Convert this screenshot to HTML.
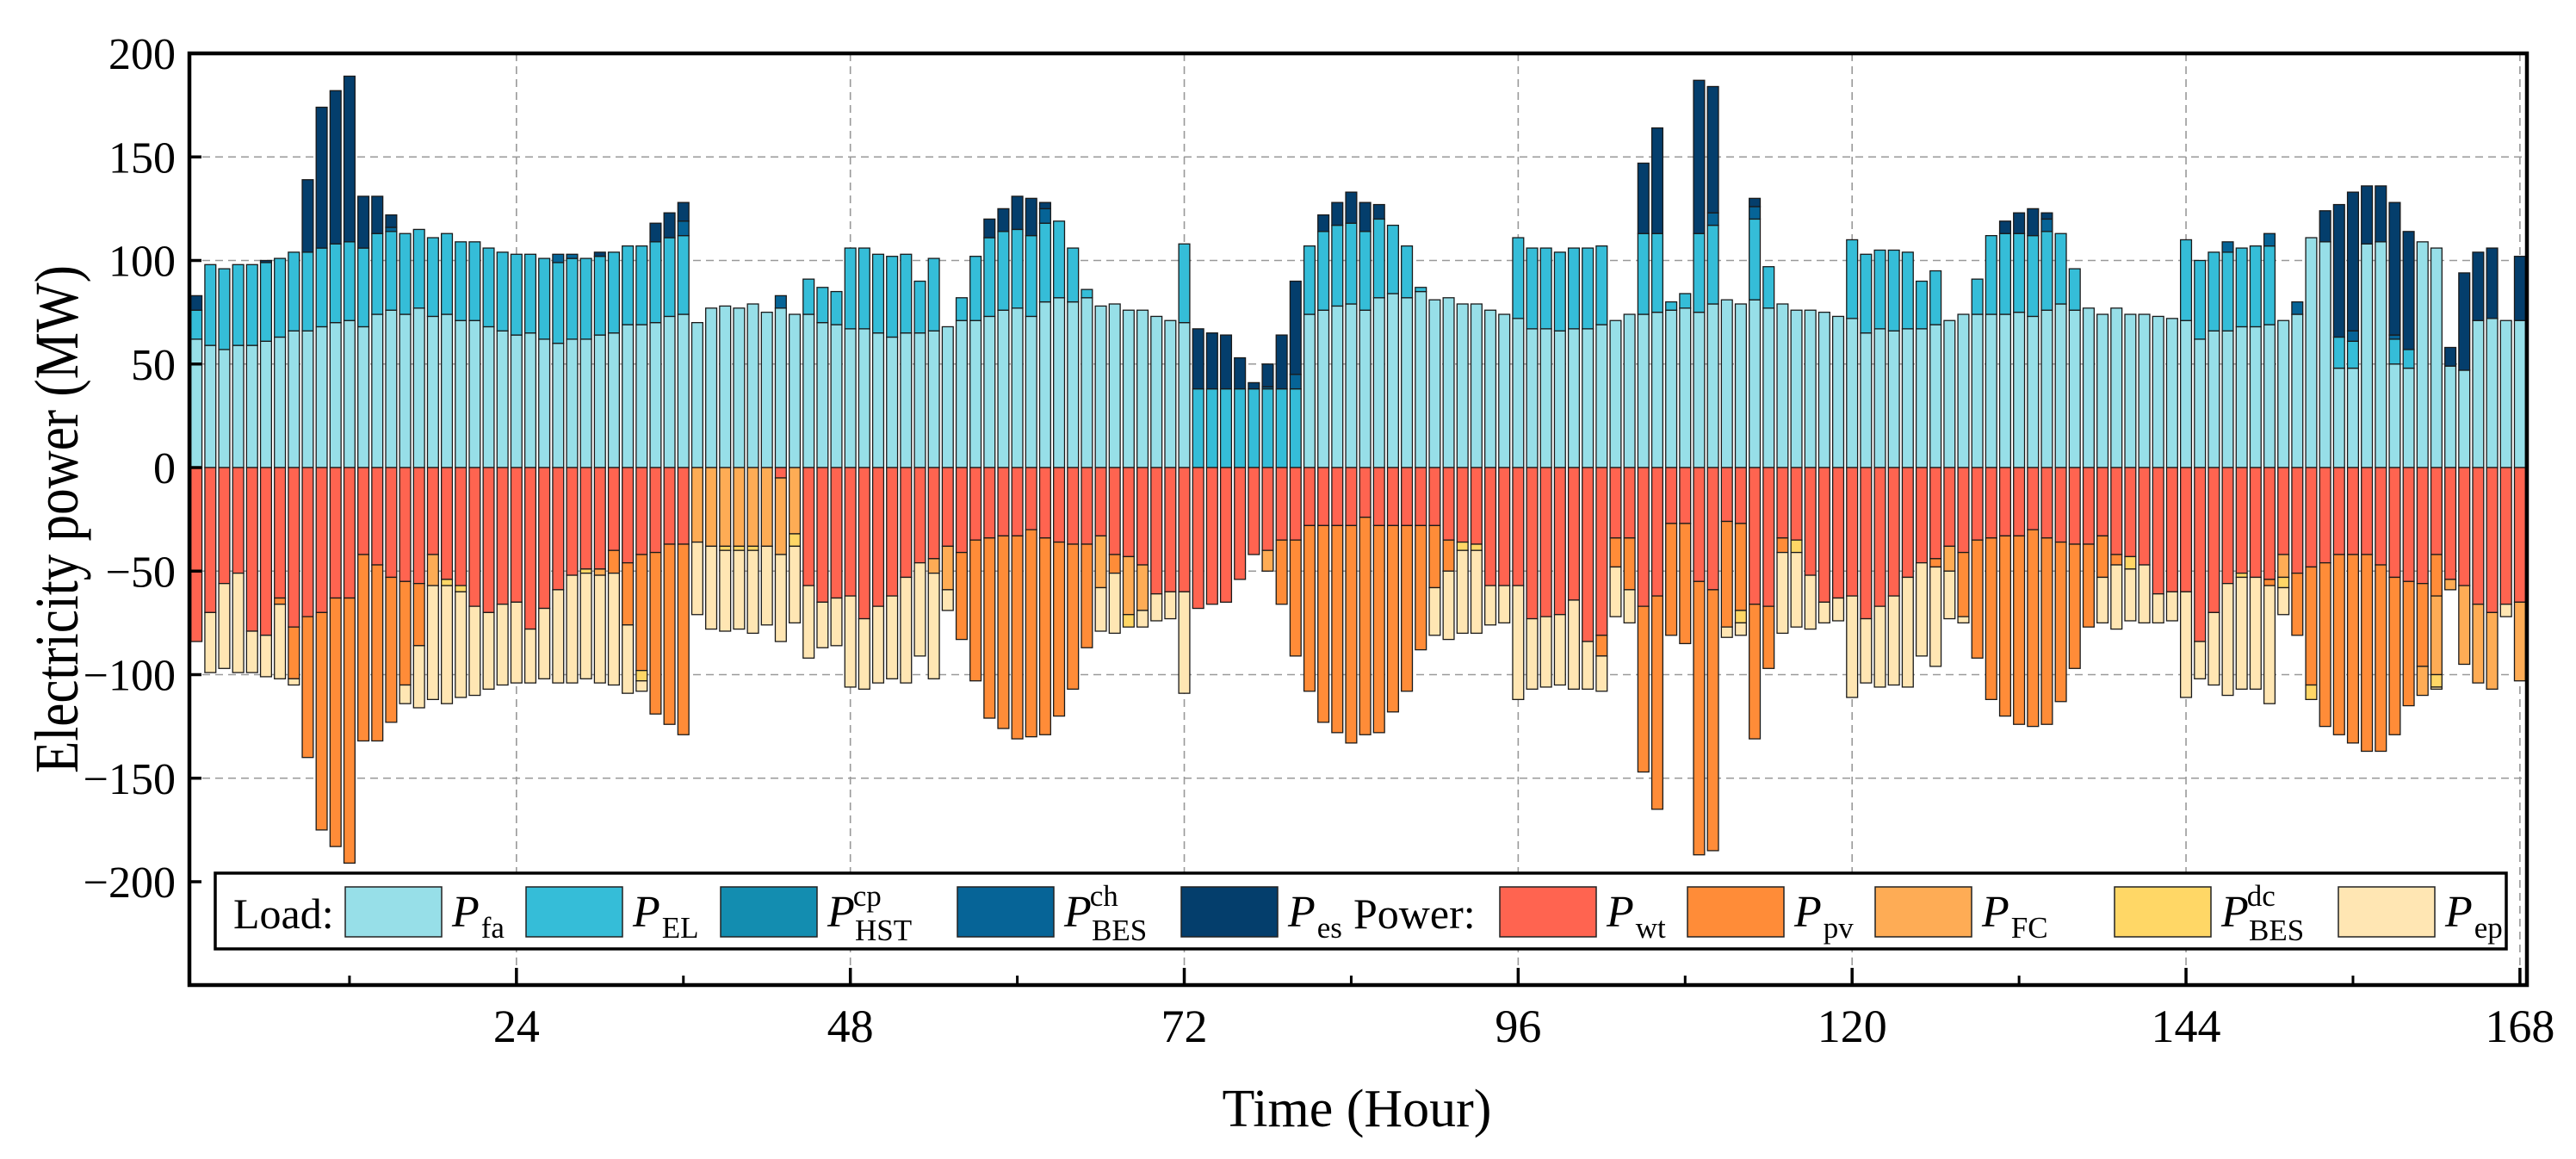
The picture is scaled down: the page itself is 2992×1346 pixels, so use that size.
<!DOCTYPE html>
<html><head><meta charset="utf-8"><style>
html,body{margin:0;padding:0;background:#fff;}
svg{display:block;font-family:"Liberation Serif",serif;}
</style></head><body>
<svg id="chart" width="2992" height="1346" viewBox="0 0 2992 1346" xmlns="http://www.w3.org/2000/svg">
<g id="grid"></g>
<g id="bars"></g>
<g id="axes"></g>
<g id="legend"></g>
</svg>
<script>
const hours = [1,2,3,4,5,6,7,8,9,10,11,12,13,14,15,16,17,18,19,20,21,22,23,24,25,26,27,28,29,30,31,32,33,34,35,36,37,38,39,40,41,42,43,44,45,46,47,48,49,50,51,52,53,54,55,56,57,58,59,60,61,62,63,64,65,66,67,68,69,70,71,72,73,74,75,76,77,78,79,80,81,82,83,84,85,86,87,88,89,90,91,92,93,94,95,96,97,98,99,100,101,102,103,104,105,106,107,108,109,110,111,112,113,114,115,116,117,118,119,120,121,122,123,124,125,126,127,128,129,130,131,132,133,134,135,136,137,138,139,140,141,142,143,144,145,146,147,148,149,150,151,152,153,154,155,156,157,158,159,160,161,162,163,164,165,166,167,168];
const pFa = [62,59,57,59,59,61,63,66,66,68,70,71, 68,74,76,74,77,73,74,71,71,68,66,64, 65,62,60,62,62,64,65,69,69,70,73,74, 70,77,78,77,79,75,77,74,74,70,69,67, 67,65,63,65,65,66,68,71,71,73,76,77, 73,80,82,80,82,78,79,76,76,73,71,70, 0,0,0,0,0,0,0,0,74,76,78,79, 76,82,84,82,85,81,82,79,79,76,74,72, 67,67,66,67,67,69,71,74,74,75,76,77, 75,79,81,79,81,77,79,76,76,75,73,72, 65,67,66,67,67,69,71,74,74,74,74,75, 73,76,79,76,77,74,77,74,74,73,72,71, 62,66,66,68,68,69,71,74,111,109,48,48, 108,109,50,48,109,106,49,47,71,72,71,71];
const pEL = [14,39,39,39,39,38,38,38,38,38,38,38, 38,39,38,39,38,38,39,38,38,38,38,39, 38,39,39,39,39,38,39,38,38,39,38,38, 0,0,0,0,0,0,0,0,17,17,16,39, 39,38,39,38,25,35,0,11,31,38,38,38, 39,38,37,26,4,0,0,0,0,0,0,38, 38,38,38,38,38,38,38,38,33,38,39,39, 38,38,33,25,2,0,0,0,0,0,0,39, 39,39,38,39,39,38,0,0,39,38,4,7, 38,38,0,0,39,20,0,0,0,0,0,38, 38,38,39,37,23,26,0,0,17,38,39,38, 39,38,34,20,0,0,0,0,0,0,0,39, 38,38,38,38,39,38,0,0,0,0,15,13, 0,0,12,9,0,0,0,0,0,0,0,0];
const pHST = [0,0,0,0,0,0,0,0,0,0,0,0, 0,0,0,0,0,0,0,0,0,0,0,0, 0,0,0,0,0,0,0,0,0,0,0,0, 0,0,0,0,0,0,0,0,0,0,0,0, 0,0,0,0,0,0,0,0,0,0,0,0, 0,0,0,0,0,0,0,0,0,0,0,0, 0,0,0,0,0,0,0,0,0,0,0,0, 0,0,0,0,0,0,0,0,0,0,0,0, 0,0,0,0,0,0,0,0,0,0,0,0, 0,0,0,0,0,0,0,0,0,0,0,0, 0,0,0,0,0,0,0,0,0,0,0,0, 0,0,0,0,0,0,0,0,0,0,0,0, 0,0,0,0,0,0,0,0,0,0,0,0, 0,0,0,0,0,0,0,0,0,0,0,0];
const pBESch = [0,0,0,0,0,0,0,0,0,0,0,0, 0,0,2,0,0,0,0,0,0,0,0,0, 0,0,4,2,0,0,0,0,0,0,0,7, 0,0,0,0,0,0,6,0,0,0,0,0, 0,0,0,0,0,0,0,0,0,0,0,0, 0,7,0,0,0,0,0,0,0,0,0,0, 0,0,0,0,0,1,0,7,0,0,0,0, 0,0,0,0,0,0,0,0,0,0,0,0, 0,0,0,0,0,0,0,0,0,0,0,0, 0,6,0,0,6,0,0,0,0,0,0,0, 0,0,0,0,0,0,0,0,0,0,0,0, 0,6,0,0,0,0,0,0,0,0,0,0, 0,0,5,0,0,6,0,6,0,0,0,5, 0,0,2,0,0,0,0,0,0,0,0,0];
const pEs = [7,0,0,0,0,1,0,0,35,68,74,80, 25,18,6,0,0,0,0,0,0,0,0,0, 0,0,0,0,0,2,0,0,0,9,12,9, 0,0,0,0,0,0,0,0,0,0,0,0, 0,0,0,0,0,0,0,0,0,9,11,16, 18,3,0,0,0,0,0,0,0,0,0,0, 29,27,26,15,3,11,26,45,0,8,11,15, 14,7,0,0,0,0,0,0,0,0,0,0, 0,0,0,0,0,0,0,0,34,51,0,0, 74,61,0,0,4,0,0,0,0,0,0,0, 0,0,0,0,0,0,0,0,0,0,6,10, 13,3,0,0,0,0,0,0,0,0,0,0, 0,0,0,0,0,0,0,0,0,15,64,67, 28,27,64,57,0,0,9,47,33,34,0,31];
const pWt = [84,70,56,51,79,81,63,77,72,70,63,63, 42,47,53,55,56,42,54,57,67,70,66,65, 78,68,59,52,49,49,40,46,42,41,37,37, 0,0,0,0,0,0,5,0,57,65,63,62, 73,67,62,53,46,44,38,41,35,34,33,33, 30,34,36,37,37,33,42,43,47,61,60,60, 68,66,65,54,42,40,35,35,28,28,28,28, 24,28,28,28,28,28,35,36,37,57,57,57, 73,72,71,64,84,81,34,34,67,62,27,27, 55,59,26,27,66,67,34,35,52,65,63,62, 73,67,62,53,46,44,38,41,35,34,33,33, 30,34,36,37,37,33,42,43,47,61,60,60, 84,70,56,51,53,54,42,51,48,46,42,42, 42,47,53,55,56,42,54,57,66,70,66,65];
const pPv = [0,0,0,0,0,0,3,25,68,105,120,128, 90,85,70,50,30,0,0,0,0,0,0,0, 0,0,0,0,0,0,11,30,56,78,87,92, 0,0,0,0,0,0,0,0,0,0,0,0, 0,0,0,0,0,0,0,42,68,87,93,98, 100,95,84,70,50,0,9,0,0,0,0,0, 0,0,0,0,0,0,31,56,80,95,100,105, 105,100,90,80,60,30,15,0,0,0,0,0, 0,0,0,0,0,10,14,25,80,103,54,58, 132,126,51,42,65,30,7,0,0,0,0,0, 0,0,0,0,0,4,0,31,57,78,87,91, 95,90,77,60,40,20,5,0,0,0,0,0, 0,0,0,0,0,3,0,30,57,79,87,91, 95,90,76,60,40,20,0,0,0,0,0,0];
const pFC = [0,0,0,0,0,0,0,0,0,0,0,0, 0,0,0,0,0,15,0,0,0,0,0,0, 0,0,0,0,0,3,0,0,0,0,0,0, 36,38,38,38,38,38,37,32,0,0,0,0, 0,0,0,0,0,7,21,0,0,0,0,0, 0,0,0,0,0,25,0,28,22,0,0,0, 0,0,0,0,0,10,0,0,0,0,0,0, 0,0,0,0,0,0,0,0,0,0,0,0, 0,0,0,0,0,0,0,0,0,0,0,0, 0,0,0,0,0,0,0,0,0,0,0,0, 0,0,0,0,0,0,12,0,0,0,0,0, 0,0,0,0,0,0,0,0,0,0,0,0, 0,0,0,0,0,0,11,0,0,0,0,0, 0,0,0,0,14,38,5,38,38,37,0,38];
const pBESdc = [0,0,0,0,0,0,0,0,0,0,0,0, 0,0,0,0,0,0,3,3,0,0,0,0, 0,0,0,0,2,0,0,0,5,0,0,0, 0,0,2,2,2,0,0,6,0,0,0,0, 0,0,0,0,0,0,0,0,0,0,0,0, 0,0,0,0,0,0,0,6,0,0,0,0, 0,0,0,0,0,0,0,0,0,0,0,0, 0,0,0,0,0,0,0,4,3,0,0,0, 0,0,0,0,0,0,0,0,0,0,0,0, 0,0,0,6,0,0,0,6,0,0,0,0, 0,0,0,0,0,0,0,0,0,0,0,0, 0,0,0,0,0,0,0,6,0,0,0,0, 0,0,0,2,0,0,5,0,7,0,0,0, 0,0,0,0,0,6,0,0,0,0,0,0];
const pEp = [0,29,41,48,20,20,36,3,0,0,0,0, 0,0,0,9,30,55,57,51,43,37,39,39, 26,34,45,52,51,52,54,33,5,0,0,0, 35,40,39,38,40,38,42,37,35,22,23,44, 34,37,40,51,45,51,10,0,0,0,0,0, 0,0,0,0,0,21,29,0,8,13,13,49, 0,0,0,0,0,0,0,0,0,0,0,0, 0,0,0,0,0,23,33,40,40,19,18,55, 34,34,34,43,23,17,24,16,0,0,0,0, 0,0,5,6,0,0,39,36,26,10,11,49, 31,39,43,53,45,48,23,3,0,0,0,0, 0,0,0,0,0,22,31,25,28,14,14,51, 18,35,54,54,54,57,13,0,0,0,0,0, 0,0,0,0,0,1,0,0,0,0,6,0];
const yTicks = [-200,-150,-100,-50,0,50,100,150,200];
const yTickLabels = ["\u2212200","\u2212150","\u2212100","\u221250","0","50","100","150","200"];
const xTicks = [24,48,72,96,120,144,168];
const xMinorTicks = [12,36,60,84,108,132,156];

const NS = "http://www.w3.org/2000/svg";
const L = 220, R = 2935, T = 62, B = 1144;
function X(h){ return 212 + 16.16*h; }
function Y(v){ return 543 - 2.405*v; }
function mk(tag, attrs, parent){ const e = document.createElementNS(NS, tag); for (const k in attrs) e.setAttribute(k, attrs[k]); parent.appendChild(e); return e; }

const gGrid = document.getElementById('grid');
yTicks.forEach(v => { if (v===0 || Math.abs(v)===200) return;
  const ln = mk('line', {x1:L, x2:R, y1:Y(v), y2:Y(v), stroke:'#999', 'stroke-width':1.6, 'stroke-dasharray':'9 6'}, gGrid);
  
  
});
xTicks.forEach(h => {
  const ln = mk('line', {x1:X(h), x2:X(h), y1:T, y2:B, stroke:'#999', 'stroke-width':1.6, 'stroke-dasharray':'9 6'}, gGrid);
  
  
});

const posSeries = [[pFa,'#97dfe8','fa'],[pEL,'#35bdd8','el'],[pHST,'#138db0','hst-cp'],[pBESch,'#066497','bes-ch'],[pEs,'#043e6c','es']];
const negSeries = [[pWt,'#ff6450','wt'],[pPv,'#ff8c38','pv'],[pFC,'#feac55','fc'],[pBESdc,'#ffd766','bes-dc'],[pEp,'#ffe6b3','ep']];
const gBars = document.getElementById('bars');
const bw = 12.8;
hours.forEach((h, i) => {
  let acc = 0;
  posSeries.forEach(s => { const v = s[0][i]; if (v > 0) {
    const r = mk('rect', {x:X(h)-bw/2, y:Y(acc+v), width:bw, height:Y(acc)-Y(acc+v), fill:s[1], stroke:'#1a1a1a', 'stroke-width':1.3}, gBars);
    
    
    acc += v; } });
  acc = 0;
  negSeries.forEach(s => { const v = s[0][i]; if (v > 0) {
    const r = mk('rect', {x:X(h)-bw/2, y:Y(-acc), width:bw, height:Y(-acc-v)-Y(-acc), fill:s[1], stroke:'#1a1a1a', 'stroke-width':1.3}, gBars);
    
    
    acc += v; } });
});

const gAx = document.getElementById('axes');
const frame = mk('rect', {x:L, y:T, width:R-L, height:B-T, fill:'none', stroke:'#000', 'stroke-width':4.5}, gAx);


yTicks.forEach((v, i) => {
  const tk = mk('line', {x1:L, x2:L+14, y1:Y(v), y2:Y(v), stroke:'#000', 'stroke-width':3.5}, gAx);
  
  
  const t = mk('text', {x:204, y:Y(v)+18, 'text-anchor':'end', 'font-size':52}, gAx);
  t.textContent = yTickLabels[i];
  
  
});
xTicks.forEach(h => {
  const tk = mk('line', {x1:X(h), x2:X(h), y1:B, y2:B-20, stroke:'#000', 'stroke-width':3.5}, gAx);
  
  
  const t = mk('text', {x:X(h), y:1210, 'text-anchor':'middle', 'font-size':54}, gAx);
  t.textContent = String(h);
  
  
});
xMinorTicks.forEach(h => {
  const tk = mk('line', {x1:X(h), x2:X(h), y1:B, y2:B-11, stroke:'#000', 'stroke-width':3}, gAx);
  
  
});
const yt = mk('text', {x:0, y:0, 'text-anchor':'middle', 'font-size':72, textLength:590, lengthAdjust:'spacingAndGlyphs', transform:'translate(90,603) rotate(-90)'}, gAx);
yt.textContent = 'Electricity power (MW)';


const xt = mk('text', {x:1576, y:1308, 'text-anchor':'middle', 'font-size':62}, gAx);
xt.textContent = 'Time (Hour)';



const gLeg = document.getElementById('legend');
const box = mk('rect', {x:250, y:1014, width:2661, height:88, fill:'#fff', stroke:'#000', 'stroke-width':3.5}, gLeg);


const lt1 = mk('text', {x:271, y:1078, 'font-size':50}, gLeg);
lt1.textContent = 'Load:';


const lt2 = mk('text', {x:1572, y:1078, 'font-size':50}, gLeg);
lt2.textContent = 'Power:';


const legItems = [
  [401,'#97dfe8','fa',''],[611,'#35bdd8','EL',''],[837,'#138db0','HST','cp'],[1112,'#066497','BES','ch'],[1372,'#043e6c','es',''],
  [1742,'#ff6450','wt',''],[1960,'#ff8c38','pv',''],[2178,'#feac55','FC',''],[2456,'#ffd766','BES','dc'],[2716,'#ffe6b3','ep','']
];
legItems.forEach(it => {
  const g = mk('g', {}, gLeg);
  
  
  const sw = mk('rect', {x:it[0], y:1030, width:112, height:58, fill:it[1], stroke:'#222', 'stroke-width':1.5}, g);
  
  
  const t = mk('text', {x:it[0]+124, y:1076, 'font-size':52}, g);
  
  
  const p = mk('tspan', {'font-style':'italic'}, t); p.textContent = 'P';
  if (it[3]) {
    const sup = mk('tspan', {'font-size':35, dy:-24, dx:-2}, t); sup.textContent = it[3];
    const sub = mk('tspan', {'font-size':35, dy:40, x:it[0]+124+32}, t); sub.textContent = it[2];
  } else {
    const sub = mk('tspan', {'font-size':35, dy:13, dx:2}, t); sub.textContent = it[2];
  }
});
</script>
</body></html>
